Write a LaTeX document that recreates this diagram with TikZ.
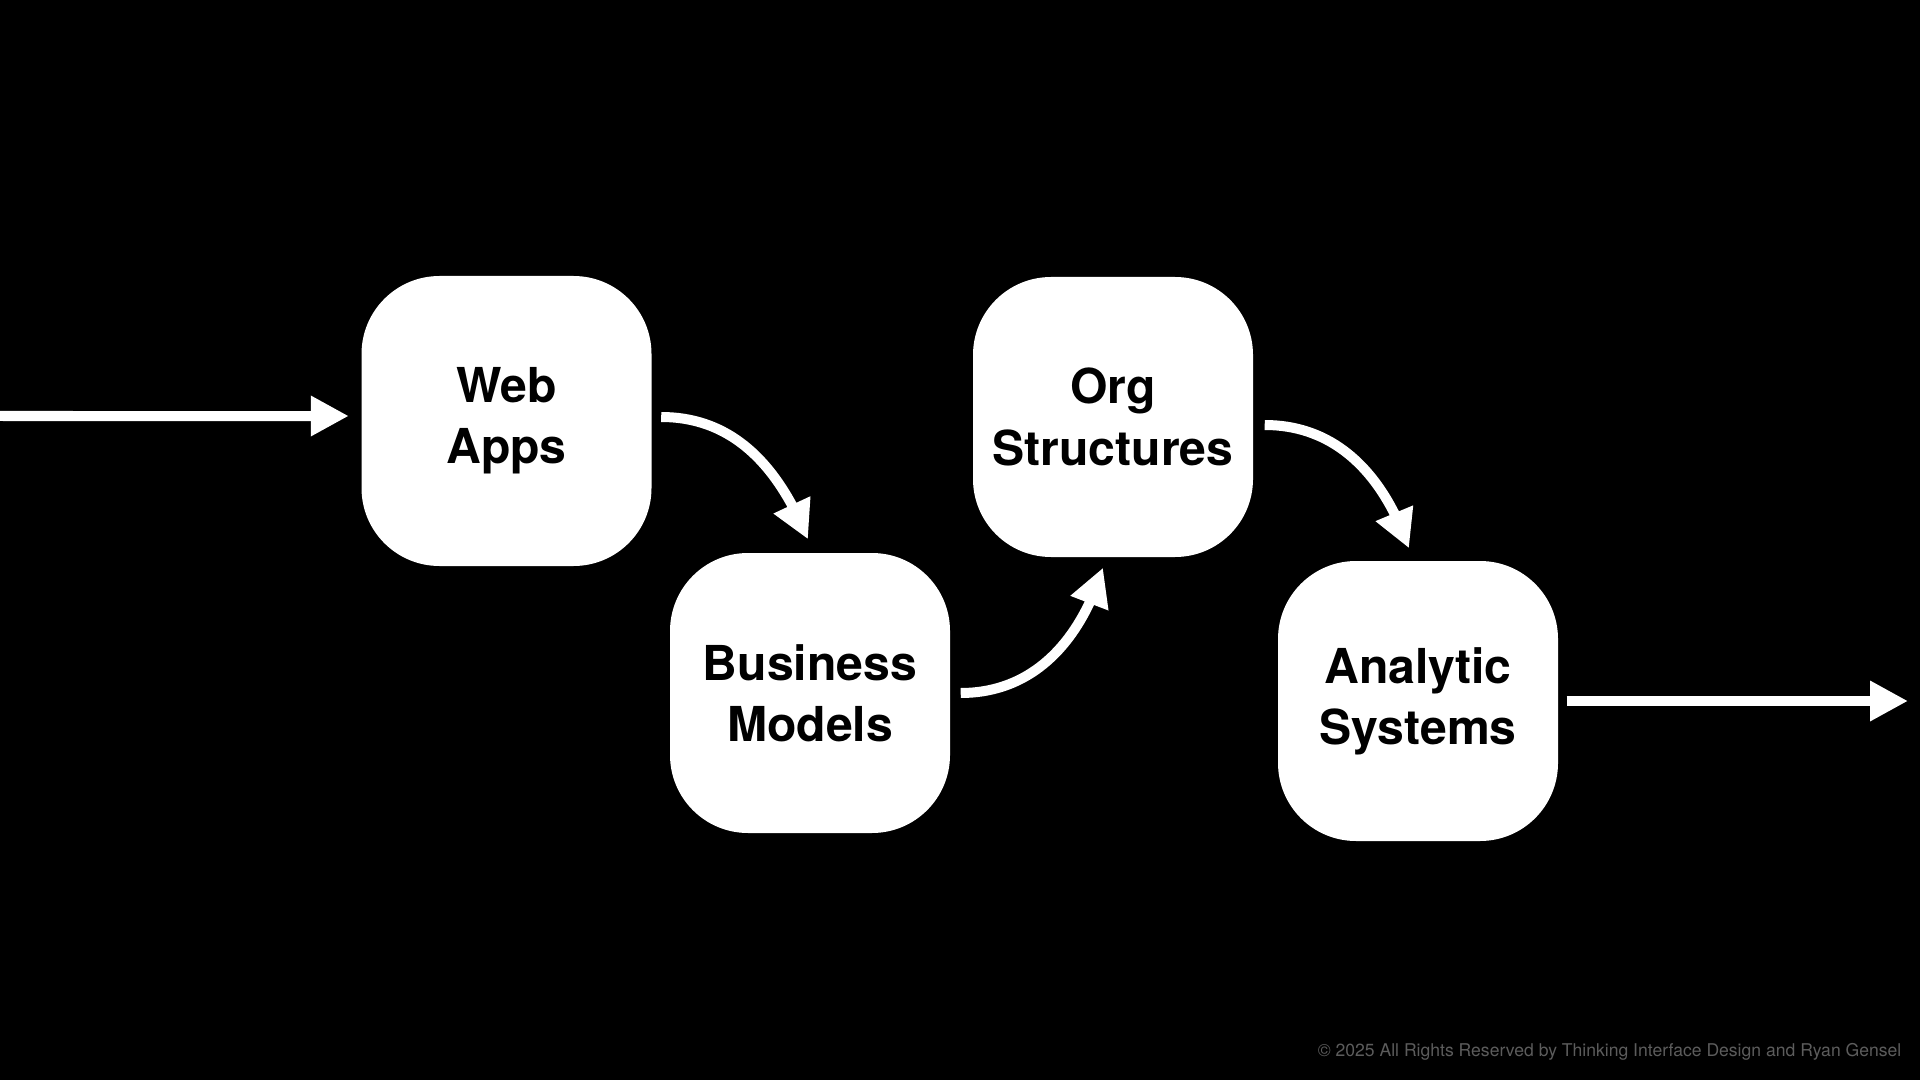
\documentclass[tikz,border=0pt]{standalone}
\usepackage{fontspec}
\setmainfont{TeX Gyre Heros}
\usepackage{tikz}
\usetikzlibrary{calc, positioning}
\usetikzlibrary{arrows.meta, bending}
\tikzset{
    auto,node distance =1.1 cm and 1.1 cm,% boxes are placed at fixed points, the distance is kept for reference
}

\begin{document}
\begin{tikzpicture}
            [every node/.style={inner sep=0pt},
            stage/.style={fill=white,rounded corners=7.8mm,align=center,
                minimum width=2.8cm,minimum height=2.8cm,
                font=\fontsize{13.7pt}{17.4pt}\selectfont\bfseries},
            flow/.style={draw=white,line width=1mm,-{Triangle[length=3.8mm,width=3.8mm]}},
            note/.style={text={rgb,255:red,92;green,92;blue,92},font=\fontsize{5pt}{6pt}\selectfont}]
            \fill[black] (0,0) rectangle (19.2,-10.8);
            \useasboundingbox (0,0) rectangle (19.2,-10.8);
            \node(web) [stage,minimum width=2.9cm,minimum height=2.9cm] at (5.065,-4.21) {Web\\Apps};
            \node(biz) [stage] at (8.10,-6.93) {Business\\Models};
            \node(org) [stage] at (11.13,-4.17) {Org\\Structures};
            \node(ana) [stage] at (14.18,-7.01) {Analytic\\Systems};
            \coordinate(in) at (0,-4.16);
            \coordinate(out) at (19.08,-7.01);
            \draw[flow] (in) -- ([xshift=-1.2mm,yshift=0.5mm]web.west);
            \draw[flow] ([xshift=0.9mm,yshift=0.4mm]web.east) to[out=0,in=112] ([xshift=-0.2mm,yshift=1.3mm]biz.north);
            \draw[flow] ([xshift=1mm]biz.east) to[out=0,in=-107] ([xshift=-1mm,yshift=-1mm]org.south);
            \draw[flow] ([xshift=1.1mm,yshift=-0.8mm]org.east) to[out=0,in=109] ([xshift=-0.9mm,yshift=1.2mm]ana.north);
            \draw[flow] ([xshift=0.8mm]ana.east) -- (out);
            \node(copy) [note,anchor=east] at (19.02,-10.52) {© 2025 All Rights Reserved by Thinking Interface Design and Ryan Gensel};
        \end{tikzpicture}
\end{document}
